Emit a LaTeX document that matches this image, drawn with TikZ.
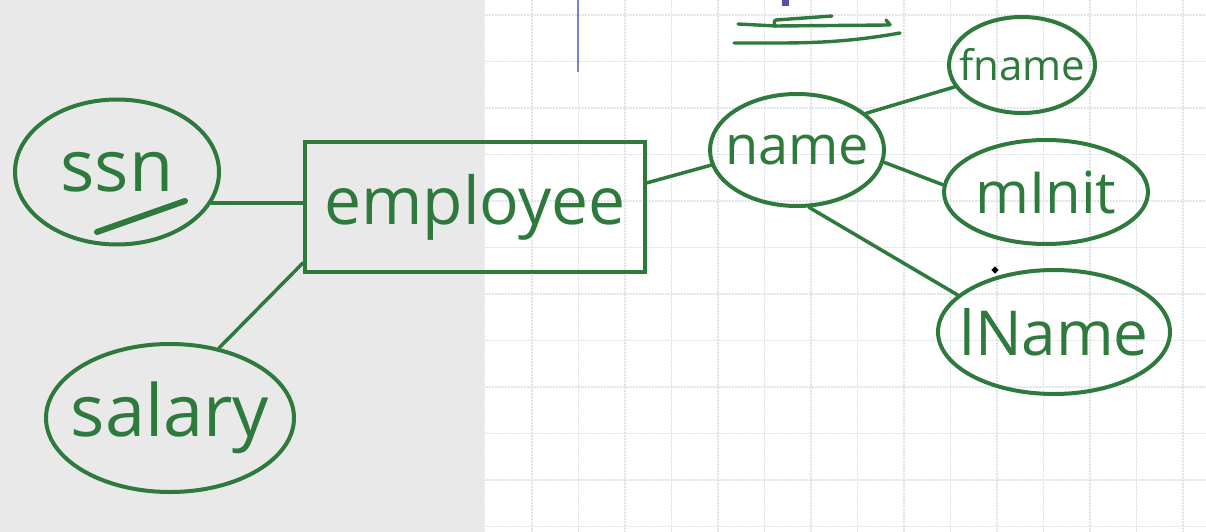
\documentclass[tikz,border=0pt]{standalone}
\usepackage{fontspec}
\setmainfont{Open Sans}
\usetikzlibrary{shapes.geometric}
\definecolor{pen}{RGB}{46,122,60}
\definecolor{panel}{RGB}{233,233,233}
\definecolor{gridc}{RGB}{222,224,232}
\definecolor{rule}{RGB}{125,130,200}
\definecolor{ink}{RGB}{90,80,170}

\begin{document}
\begin{tikzpicture}[x=1pt, y=-1pt, line width=4pt, line cap=round,
  attr/.style={shape=ellipse, draw=pen, text=pen, inner sep=-25pt},
  ent/.style={shape=rectangle, draw=pen, text=pen, inner sep=0pt},
  link/.style={draw=pen, line width=3.5pt}]
\useasboundingbox (0,0) rectangle (1206,532);
% background
\fill[white] (0,0) rectangle (1206,532);
\fill[panel] (0,0) rectangle (484,532);
\draw[gridc, line width=1pt, dotted] (484,0) -- (484,532);
\foreach \gx in {532,578.5,...,1200}
  \draw[gridc, line width=1.2pt, dotted] (\gx,0) -- (\gx,532);
\foreach \gy in {15,61.5,...,532}
  \draw[gridc, line width=1.2pt, dotted] (486,\gy) -- (1206,\gy);
\draw[rule, line width=1.6pt, line cap=butt] (578,0) -- (578,72);
\fill[ink] (782,0) rectangle (789,6);
% strokes at the top
\draw[pen, line width=3.4pt] (832,16) -- (776,20) to[out=180,in=180] (776,26) -- (889,25) to[out=0,in=-60] (886,20);
\draw[pen, line width=3.4pt] (738,24) -- (776,26);
\draw[pen, line width=3.4pt] (734,43) to[out=0,in=190] (900,33);
% entity and attributes
\node[ent, minimum width=340pt, minimum height=130pt, font=\fontsize{66}{70}\selectfont] (employee) at (475,207) {employee};
\node[attr, minimum width=204pt, minimum height=145pt, font=\fontsize{72}{76}\selectfont] (ssn) at (117,172) {ssn};
\node[attr, minimum width=248pt, minimum height=148pt, font=\fontsize{72}{76}\selectfont] (salary) at (170,418) {salary};
\node[attr, minimum width=174pt, minimum height=112pt, font=\fontsize{54}{58}\selectfont] (name) at (797,150) {name};
\node[attr, minimum width=146pt, minimum height=96pt, font=\fontsize{42}{44}\selectfont] (fname) at (1022,65) {fname};
\node[attr, minimum width=204pt, minimum height=104pt, font=\fontsize{58}{60}\selectfont] (mInit) at (1046,192) {mInit};
\node[attr, minimum width=232pt, minimum height=124pt, font=\fontsize{62}{64}\selectfont] (lName) at (1054,332) {lName};
% key underline
\coordinate (keya) at (97,232);
\coordinate (keyb) at (185,201);
\draw[pen, line width=6pt] (keya) -- (keyb);
% connectors
\draw[link] (ssn.-18) -- (ssn.-18 -| employee.west);
\draw[link] (employee.198) -- (salary.55);
\draw[link] (employee.8) -- (name.190);
\draw[link] (name.28) -- (fname.198);
\draw[link] (name.352) -- (mInit.176);
\draw[link] (name.282) -- (lName.159);
% pointer
\node[shape=diamond, fill=black, inner sep=0pt, minimum size=9pt] (cursor) at (995,270) {};
\end{tikzpicture}
\end{document}
